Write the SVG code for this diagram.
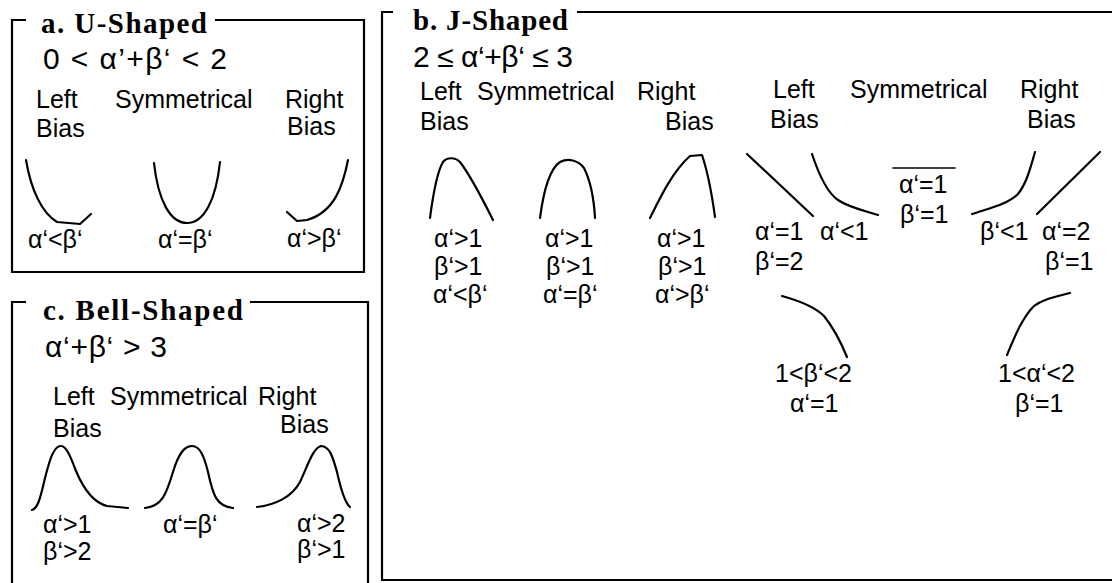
<svg xmlns="http://www.w3.org/2000/svg" width="1112" height="583" viewBox="0 0 1112 583">
<style>
.frame{fill:none;stroke:#000;stroke-width:2.2}
.curve{fill:none;stroke:#000;stroke-width:2.2;stroke-linecap:round;stroke-linejoin:round}
.title{font-family:"Liberation Serif","Times New Roman",serif;font-weight:bold;font-size:29px;fill:#000}
.formula{font-family:"Liberation Sans",Arial,sans-serif;font-size:30px;fill:#000}
.lbl{font-family:"Liberation Sans",Arial,sans-serif;font-size:25px;fill:#000}
.cond{font-family:"Liberation Sans",Arial,sans-serif;font-size:25px;fill:#000}
</style>
<rect width="1112" height="583" fill="#fff"/>

<g id="panel-a">
  <path class="frame" d="M26,20 H12 V272 H364 V20 H215"/>
  <text class="title" x="41" y="33" textLength="166" lengthAdjust="spacing">a. U-Shaped</text>
  <text class="formula" x="43" y="69" textLength="184" lengthAdjust="spacing">0 &lt; α’+β‘ &lt; 2</text>
  <g id="a-left">
    <text class="lbl" x="36" y="108">Left</text>
    <text class="lbl" x="36" y="137">Bias</text>
    <path class="curve" d="M26,160 C31,190 42,213 57,222 L80,224 L91,214"/>
    <text class="cond" x="28" y="248">α‘&lt;β‘</text>
  </g>
  <g id="a-sym">
    <text class="lbl" x="115" y="108">Symmetrical</text>
    <path class="curve" d="M154,163 C158,200 170,223 187,223 C204,223 216,200 220,162"/>
    <text class="cond" x="158" y="248">α‘=β‘</text>
  </g>
  <g id="a-right">
    <text class="lbl" x="285" y="108">Right</text>
    <text class="lbl" x="287" y="135">Bias</text>
    <path class="curve" d="M348,160 C343,185 335,212 307,220 L297,221 L287,212"/>
    <text class="cond" x="287" y="247">α‘&gt;β‘</text>
  </g>
</g>

<g id="panel-c">
  <path class="frame" d="M26,302 H12 V583 M368,583 V302 H250"/>
  <text class="title" x="43" y="320" textLength="200" lengthAdjust="spacing">c. Bell-Shaped</text>
  <text class="formula" x="45" y="357" textLength="122" lengthAdjust="spacing">α‘+β‘ &gt; 3</text>
  <g id="c-left">
    <text class="lbl" x="53" y="405">Left</text>
    <text class="lbl" x="53" y="437">Bias</text>
    <path class="curve" d="M32,510 C40,508 42,487 48,467 C52,452 56,446 61,446 C66,446 70,455 76,471 C84,490 95,503 107,506 L128,508"/>
    <text class="cond" x="43" y="533">α‘&gt;1</text>
    <text class="cond" x="43" y="560">β‘&gt;2</text>
  </g>
  <g id="c-sym">
    <text class="lbl" x="110" y="405">Symmetrical</text>
    <path class="curve" d="M145,508 C162,506 166,495 173,472 C179,452 185,446 192,446 C200,446 204,456 208,472 C213,495 216,506 233,508"/>
    <text class="cond" x="163" y="533">α‘=β‘</text>
  </g>
  <g id="c-right">
    <text class="lbl" x="258" y="405">Right</text>
    <text class="lbl" x="280" y="433">Bias</text>
    <path class="curve" d="M257,507 C275,505 292,497 300,482 C308,465 313,448 321,446 C330,446 333,458 337,472 C341,490 345,503 350,507"/>
    <text class="cond" x="297" y="532">α‘&gt;2</text>
    <text class="cond" x="297" y="558">β‘&gt;1</text>
  </g>
</g>

<g id="panel-b">
  <path class="frame" d="M393,12 H382 V580 H1112 M1112,12 H577"/>
  <text class="title" x="413" y="30" textLength="155" lengthAdjust="spacing">b. J-Shaped</text>
  <text class="formula" x="413" y="67" textLength="160" lengthAdjust="spacing">2 ≤ α‘+β‘ ≤ 3</text>

  <g id="b-left">
    <text class="lbl" x="420" y="100">Left</text>
    <text class="lbl" x="420" y="130">Bias</text>
    <path class="curve" d="M430,218 C433,195 437,172 443,162 C447,157 455,157 460,162 C470,175 482,198 493,220"/>
    <text class="cond" x="434" y="247">α‘&gt;1</text>
    <text class="cond" x="434" y="275">β‘&gt;1</text>
    <text class="cond" x="433" y="303">α‘&lt;β‘</text>
  </g>
  <g id="b-sym">
    <text class="lbl" x="477" y="100">Symmetrical</text>
    <path class="curve" d="M540,218 C543,195 548,170 560,162 C568,158 578,160 584,168 C590,180 594,200 595,218"/>
    <text class="cond" x="545" y="247">α‘&gt;1</text>
    <text class="cond" x="546" y="275">β‘&gt;1</text>
    <text class="cond" x="543" y="303">α‘=β‘</text>
  </g>
  <g id="b-right">
    <text class="lbl" x="637" y="100">Right</text>
    <text class="lbl" x="665" y="130">Bias</text>
    <path class="curve" d="M650,218 C660,198 672,172 690,156 L702,155 C707,170 712,195 715,217"/>
    <text class="cond" x="657" y="247">α‘&gt;1</text>
    <text class="cond" x="658" y="275">β‘&gt;1</text>
    <text class="cond" x="655" y="303">α‘&gt;β‘</text>
  </g>

  <g id="j-left">
    <text class="lbl" x="773" y="98">Left</text>
    <text class="lbl" x="770" y="128">Bias</text>
    <path class="curve" d="M747,154 L813,216"/>
    <text class="cond" x="755" y="240">α‘=1</text>
    <text class="cond" x="755" y="270">β‘=2</text>
    <path class="curve" d="M812,154 C818,172 826,192 838,200 C848,207 862,210 878,215"/>
    <text class="cond" x="820" y="240">α‘&lt;1</text>
    <path class="curve" d="M782,296 C800,301 815,307 824,316 C832,326 840,340 847,357"/>
    <text class="cond" x="775" y="382">1&lt;β‘&lt;2</text>
    <text class="cond" x="790" y="412">α‘=1</text>
  </g>
  <g id="j-sym">
    <text class="lbl" x="850" y="98">Symmetrical</text>
    <path class="curve" d="M893,168 L955,168" style="stroke-width:1.6"/>
    <text class="cond" x="899" y="193">α‘=1</text>
    <text class="cond" x="900" y="223">β‘=1</text>
  </g>
  <g id="j-right">
    <text class="lbl" x="1020" y="98">Right</text>
    <text class="lbl" x="1027" y="128">Bias</text>
    <path class="curve" d="M972,214 C990,208 1008,204 1018,194 C1026,184 1030,170 1035,152"/>
    <text class="cond" x="980" y="240">β‘&lt;1</text>
    <path class="curve" d="M1037,214 L1100,152"/>
    <text class="cond" x="1042" y="240">α‘=2</text>
    <text class="cond" x="1045" y="270">β‘=1</text>
    <path class="curve" d="M1007,355 C1014,338 1022,318 1034,306 C1043,299 1055,297 1070,293"/>
    <text class="cond" x="998" y="382">1&lt;α‘&lt;2</text>
    <text class="cond" x="1015" y="412">β‘=1</text>
  </g>
</g>
</svg>
